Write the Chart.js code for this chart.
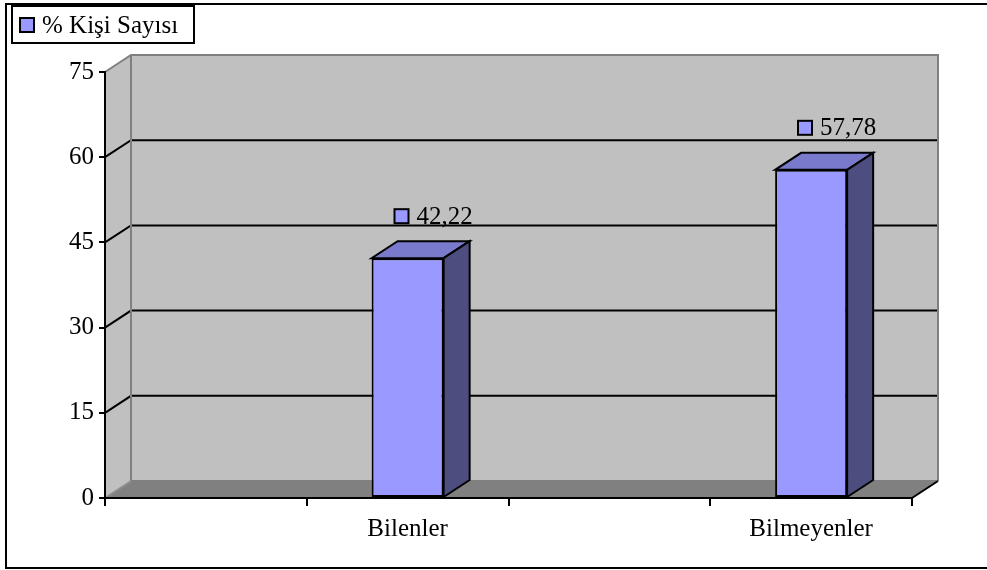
<!DOCTYPE html>
<html>
<head>
<meta charset="utf-8">
<script src="https://cdn.jsdelivr.net/npm/chart.js@4"></script>
<style>
    body { margin: 0; background: #fff; }
    #wrap { width: 987px; height: 570px; }
</style>
</head>
<body>
<div id="wrap"><canvas id="kisiChart" width="987" height="570"></canvas></div>
<script>
// Veriler
const categories = ['', 'Bilenler', '', 'Bilmeyenler'];
const kisiSayisi = [null, 42.22, null, 57.78];
const yTicks = [0, 15, 30, 45, 60, 75];
const seriesName = '% Kişi Sayısı';

const FONT = '"Liberation Serif", "Times New Roman", serif';
const DX = 26, DY = -17; // 3D derinlik

function fmt(v) {
    return v.toFixed(2).replace('.', ',');
}

function poly(ctx, pts, fill, stroke, lw) {
    ctx.beginPath();
    ctx.moveTo(pts[0][0], pts[0][1]);
    for (let i = 1; i < pts.length; i++) ctx.lineTo(pts[i][0], pts[i][1]);
    ctx.closePath();
    if (fill) { ctx.fillStyle = fill; ctx.fill(); }
    if (stroke) { ctx.strokeStyle = stroke; ctx.lineWidth = lw || 2; ctx.stroke(); }
}

function line(ctx, pts, color, lw) {
    ctx.beginPath();
    ctx.moveTo(pts[0][0], pts[0][1]);
    for (let i = 1; i < pts.length; i++) ctx.lineTo(pts[i][0], pts[i][1]);
    ctx.strokeStyle = color;
    ctx.lineWidth = lw || 2;
    ctx.stroke();
}

// Excel tarzı duvarlar, zemin, 3D sütunlar, etiketler
const excel3d = {
    id: 'excel3d',
    beforeDraw(chart) {
        const ctx = chart.ctx;
        const a = chart.chartArea;
        const ys = chart.scales.y;
        const L = a.left, R = a.right, T = a.top, B = a.bottom;
        ctx.save();

        // dış çerçeve
        ctx.strokeStyle = '#000';
        ctx.lineWidth = 2;
        ctx.strokeRect(6, 4, 1000, 564);

        // yan duvar
        poly(ctx, [[L, T], [L + DX, T + DY], [L + DX, B + DY], [L, B]], '#c0c0c0');
        // arka duvar
        poly(ctx, [[L + DX, T + DY], [R + DX, T + DY], [R + DX, B + DY], [L + DX, B + DY]], '#c0c0c0');
        // zemin
        poly(ctx, [[L, B], [R, B], [R + DX, B + DY], [L + DX, B + DY]], '#808080');

        // kılavuz çizgileri
        yTicks.forEach(v => {
            if (v === ys.min || v === ys.max) return;
            const yy = ys.getPixelForValue(v);
            line(ctx, [[L, yy], [L + DX, yy + DY], [R + DX, yy + DY]], '#000', 2);
        });

        // duvar kenarları
        line(ctx, [[L, T], [L + DX, T + DY], [R + DX, T + DY], [R + DX, B + DY]], '#808080', 2);
        line(ctx, [[L + DX, T + DY], [L + DX, B + DY], [R + DX, B + DY]], '#808080', 2);
        line(ctx, [[L, B], [L + DX, B + DY]], '#909090', 2);
        line(ctx, [[R, B], [R + DX, B + DY]], '#000', 2);

        // lejant
        ctx.fillStyle = '#fff';
        ctx.fillRect(12, 6, 182, 37);
        ctx.strokeStyle = '#000';
        ctx.lineWidth = 2;
        ctx.strokeRect(12, 6, 182, 37);
        ctx.fillStyle = '#9999ff';
        ctx.fillRect(20, 18, 14, 14);
        ctx.strokeRect(20, 18, 14, 14);
        ctx.fillStyle = '#000';
        ctx.font = '25px ' + FONT;
        ctx.textAlign = 'left';
        ctx.textBaseline = 'middle';
        ctx.fillText(chart.data.datasets[0].label, 42, 26);
        ctx.restore();
    },
    afterDatasetsDraw(chart) {
        const ctx = chart.ctx;
        const meta = chart.getDatasetMeta(0);
        ctx.save();
        meta.data.forEach((bar, i) => {
            const v = kisiSayisi[i];
            if (v == null) return;
            const p = bar.getProps(['x', 'y', 'width', 'base'], true);
            const l = p.x - p.width / 2, r = p.x + p.width / 2;
            // üst yüz
            poly(ctx, [[l, p.y], [r, p.y], [r + DX, p.y + DY], [l + DX, p.y + DY]], '#7a7acc', '#000', 2);
            // yan yüz
            poly(ctx, [[r, p.y], [r + DX, p.y + DY], [r + DX, p.base + DY], [r, p.base]], '#4d4d80', '#000', 2);

            // veri etiketi
            ctx.font = '25px ' + FONT;
            const txt = fmt(v);
            const tw = ctx.measureText(txt).width;
            const box = 14, gap = 8;
            const total = box + gap + tw;
            const cx = p.x + DX;
            const cy = p.y - 42;
            const x0 = cx - total / 2;
            ctx.fillStyle = '#9999ff';
            ctx.fillRect(x0, cy - box / 2, box, box);
            ctx.strokeStyle = '#000';
            ctx.lineWidth = 2;
            ctx.strokeRect(x0, cy - box / 2, box, box);
            ctx.fillStyle = '#000';
            ctx.textAlign = 'left';
            ctx.textBaseline = 'middle';
            ctx.fillText(txt, x0 + box + gap, cy + 1);
        });
        ctx.restore();
    }
};

const ctx = document.getElementById('kisiChart');
const kisiChart = new Chart(ctx.getContext('2d'), {
    type: 'bar',
    data: {
        labels: categories,
        datasets: [{
            label: seriesName,
            data: kisiSayisi,
            backgroundColor: '#9999ff',
            borderColor: '#000',
            borderWidth: 2,
            borderSkipped: false,
            categoryPercentage: 1,
            barPercentage: 0.357
        }]
    },
    options: {
        responsive: false,
        devicePixelRatio: 1,
        animation: false,
        layout: {
            padding: { top: 72, right: 75, bottom: 0, left: 0 }
        },
        scales: {
            x: {
                offset: true,
                afterFit: s => { s.height = 72; },
                grid: {
                    offset: true,
                    drawOnChartArea: false,
                    tickLength: 8,
                    color: '#000',
                    lineWidth: 2
                },
                border: { color: '#000', width: 2 },
                ticks: {
                    color: '#000',
                    padding: 8,
                    maxRotation: 0,
                    font: { family: FONT, size: 25 }
                }
            },
            y: {
                min: 0,
                max: 75,
                afterFit: s => { s.width = 105; },
                afterBuildTicks: s => { s.ticks = yTicks.map(v => ({ value: v })); },
                grid: {
                    drawOnChartArea: false,
                    tickLength: 6,
                    color: '#000',
                    lineWidth: 2
                },
                border: { color: '#000', width: 2 },
                ticks: {
                    color: '#000',
                    padding: 5,
                    font: { family: FONT, size: 25 }
                }
            }
        },
        plugins: {
            legend: { display: false },
            tooltip: { enabled: false }
        }
    },
    plugins: [excel3d]
});
</script>
</body>
</html>
